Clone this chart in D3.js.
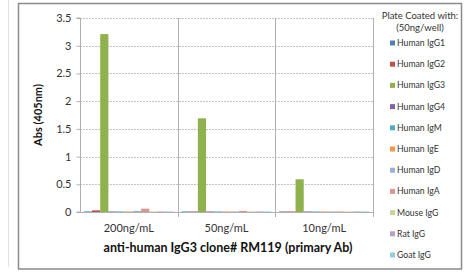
<!DOCTYPE html>
<html><head><meta charset="utf-8">
<script src="https://cdn.jsdelivr.net/npm/d3@7/dist/d3.min.js"></script>
<style>body{margin:0;background:#fff}svg{display:block}text{font-family:Lato,"Open Sans",sans-serif}</style>
</head><body><svg id="c" width="465" height="272"></svg>
<script>
const categories = ["200ng/mL","50ng/mL","10ng/mL"];
const seriesNames = ["Human IgG1","Human IgG2","Human IgG3","Human IgG4","Human IgM","Human IgE","Human IgD","Human IgA","Mouse IgG","Rat IgG","Goat IgG"];
const seriesColors = ["#4F81BD","#C0504D","#8FB14E","#8064A2","#4BACC6","#F79646","#95B3D7","#D99694","#C3D69B","#B3A2C7","#93CDDD"];
const valIgG1 = [0.01,0.01,0.01];
const valIgG2 = [0.03,0.01,0.01];
const valIgG3 = [3.21,1.69,0.59];
const valIgG4 = [0.01,0.01,0.01];
const valIgM  = [0.01,0.01,0.01];
const valIgE  = [0.01,0.01,0.01];
const valIgD  = [0.02,0.01,0.01];
const valIgA  = [0.06,0.02,0.01];
const valMouse= [0.01,0.01,0.01];
const valRat   = [0.01,0.01,0.01];
const valGoat  = [0.01,0.01,0.01];
const yTicks = [0,0.5,1,1.5,2,2.5,3,3.5];
const yTickLabels = ["0","0.5","1","1.5","2","2.5","3","3.5"];
const seriesValues = [valIgG1,valIgG2,valIgG3,valIgG4,valIgM,valIgE,valIgD,valIgA,valMouse,valRat,valGoat];

const svg = d3.select("#c");
svg.append("line").attr("x1",8.5).attr("x2",8.5).attr("y1",0).attr("y2",267).attr("stroke","#e2e2e2");
svg.append("rect").attr("x",18.5).attr("y",3.5).attr("width",443).attr("height",265.5)
  .attr("fill","#fff").attr("stroke","#8a8a8a").attr("stroke-width",1.5);

const L=80, R=373, T=18, B=212;
const x0 = d3.scaleBand().domain(categories).range([L,R]).paddingInner(0).paddingOuter(0);
const x1 = d3.scaleBand().domain(seriesNames).range([0,x0.bandwidth()]).paddingInner(0).paddingOuter(0.47);
const y = d3.scaleLinear().domain([0,3.5]).range([B,T]);

svg.append("g").selectAll("line").data(yTicks.filter(d=>d>0)).join("line")
  .attr("x1",L).attr("x2",R).attr("y1",d=>Math.round(y(d))+0.5).attr("y2",d=>Math.round(y(d))+0.5)
  .attr("stroke","#c4c4c4").attr("stroke-dasharray","2,1");
svg.append("g").selectAll("line").data([categories[1],categories[2],null]).join("line")
  .attr("x1",d=> d? Math.round(x0(d))+0.5 : R+0.5)
  .attr("x2",d=> d? Math.round(x0(d))+0.5 : R+0.5)
  .attr("y1",T).attr("y2",B+5).attr("stroke","#b0b0b0");

const g = svg.append("g");
categories.forEach((c,ci)=>{
  seriesNames.forEach((s,si)=>{
    const v = seriesValues[si][ci];
    g.append("rect").attr("x",x0(c)+x1(s)).attr("width",x1.bandwidth())
     .attr("y",y(v)).attr("height",B-y(v)).attr("fill",seriesColors[si]);
  });
});

const yAxis = d3.axisLeft(y).tickValues(yTicks).tickFormat((d,i)=>yTickLabels[i]).tickSize(4).tickPadding(5);
const ya = svg.append("g").attr("transform",`translate(${L+0.5},0)`).call(yAxis);
ya.select(".domain").attr("stroke","#b0b0b0").attr("d",`M-4,${T}H0V${B}H-4`);
ya.selectAll(".tick line").attr("stroke","#b0b0b0");
ya.selectAll(".tick text").attr("font-size",11).attr("fill","#333").attr("font-family","Lato,sans-serif");
const xAxis = d3.axisBottom(x0).tickSize(0).tickPadding(12);
const xa = svg.append("g").attr("transform",`translate(0,${B+0.5})`).call(xAxis);
xa.select(".domain").attr("stroke","#b0b0b0").attr("d",`M${L},0H${R}`);
xa.selectAll(".tick text").attr("font-size",11).attr("fill","#333").attr("font-family","Lato,sans-serif");

svg.append("text").attr("transform",`translate(42,${(T+B)/2}) rotate(-90)`).attr("text-anchor","middle")
  .attr("font-size",11).attr("font-weight","bold").attr("fill","#111").text("Abs (405nm)");
svg.append("text").attr("x",228).attr("y",252).attr("text-anchor","middle")
  .attr("font-size",12.5).attr("font-weight","bold").attr("fill","#111").text("anti-human IgG3 clone# RM119 (primary Ab)");

svg.append("text").attr("x",420).attr("y",19).attr("text-anchor","middle").attr("font-size",9.5).attr("fill","#333").text("Plate Coated with:");
svg.append("text").attr("x",420).attr("y",31).attr("text-anchor","middle").attr("font-size",9.5).attr("fill","#333").text("(50ng/well)");
const lg = svg.append("g").selectAll("g").data(seriesNames).join("g")
  .attr("transform",(d,i)=>`translate(390,${43+i*21.2})`);
lg.append("rect").attr("x",0).attr("y",-2.5).attr("width",5).attr("height",5).attr("fill",(d,i)=>seriesColors[i]);
lg.append("text").attr("x",7).attr("y",3).attr("font-size",8.7).attr("fill","#333").text(d=>d);
</script></body></html>
